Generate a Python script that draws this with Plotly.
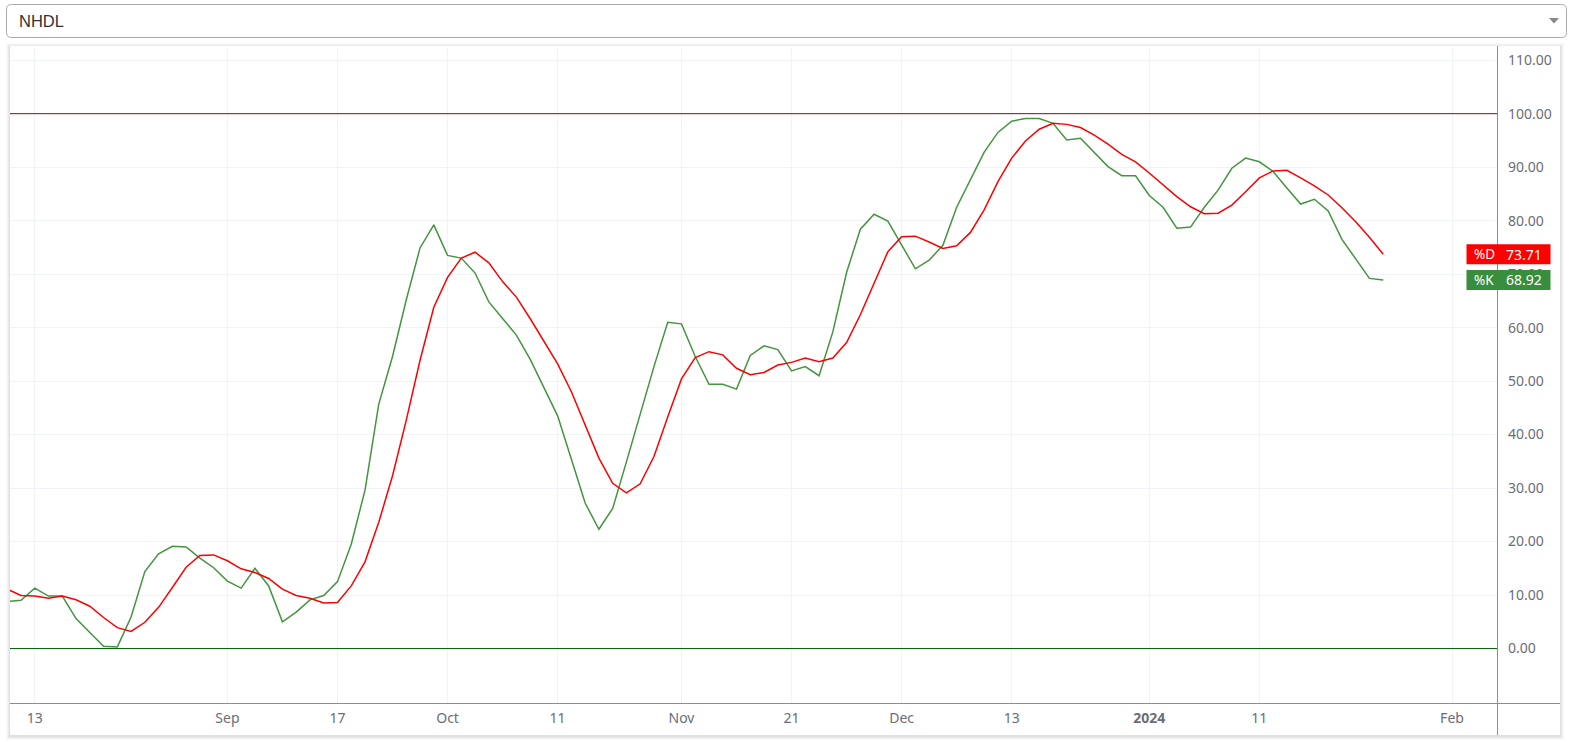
import plotly.graph_objects as go

# ---------------- data ----------------
title_text = "NHDL"
bars = list(range(-1, 100))
k_values = [8.8, 9.0, 11.3, 9.8, 9.8, 5.6, 3.0, 0.4, 0.3, 5.9,
            14.4, 17.7, 19.1, 19.0, 16.9, 15.1, 12.6, 11.3, 15.0, 11.7,
            5.0, 6.8, 9.1, 9.9, 12.5, 19.5, 29.6, 45.7, 54.6, 65.2,
            74.9, 79.2, 73.5, 73.0, 70.2, 64.8, 61.7, 58.6, 54.1, 48.8,
            43.5, 35.4, 27.2, 22.3, 26.2, 34.9, 43.7, 52.7, 61.0, 60.7,
            54.6, 49.4, 49.4, 48.5, 54.8, 56.6, 55.9, 51.9, 52.7, 51.0,
            59.2, 70.3, 78.4, 81.2, 79.9, 75.4, 71.0, 72.6, 75.4, 82.5,
            87.6, 92.8, 96.5, 98.6, 99.1, 99.1, 98.2, 95.1, 95.4, 92.7,
            90.1, 88.4, 88.4, 84.7, 82.5, 78.6, 78.8, 82.5, 85.7, 89.8,
            91.7, 91.0, 89.2, 86.1, 83.1, 84.0, 81.8, 76.5, 72.8, 69.2,
            68.92]
d_values = [11.1, 9.9, 9.8, 9.4, 9.8, 9.1, 7.9, 5.8, 3.9, 3.2,
            4.9, 7.7, 11.4, 15.2, 17.4, 17.5, 16.4, 14.9, 14.2, 13.1,
            11.1, 9.9, 9.4, 8.5, 8.6, 11.7, 16.2, 23.6, 32.3, 42.7,
            53.9, 63.8, 69.4, 73.0, 74.1, 72.1, 68.6, 65.7, 61.7, 57.4,
            53.2, 48.0, 41.8, 35.6, 30.9, 29.1, 30.8, 35.9, 43.3, 50.4,
            54.4, 55.5, 54.9, 52.4, 51.2, 51.6, 53.0, 53.5, 54.3, 53.6,
            54.3, 57.2, 62.4, 68.3, 74.2, 77.0, 77.1, 76.0, 74.8, 75.3,
            77.8, 82.0, 87.3, 91.7, 94.9, 97.1, 98.2, 98.0, 97.4, 96.0,
            94.3, 92.4, 91.0, 88.9, 86.7, 84.5, 82.6, 81.3, 81.4, 82.9,
            85.4, 88.0, 89.3, 89.4, 88.0, 86.5, 84.8, 82.4, 79.8, 76.9,
            73.71]
tick_pos = [1, 15, 23, 31, 39, 48, 56, 64, 72, 82, 90, 104]
tick_labels = ["13", "Sep", "17", "Oct", "11", "Nov", "21", "Dec", "13",
               "<b>2024</b>", "11", "Feb"]
y_ticks = [0, 10, 20, 30, 40, 50, 60, 70, 80, 90, 100, 110]
upper_level = 100
lower_level = 0

# ---------------- layout helpers ----------------
W, H = 1569, 742
L, R, T, B = 10, 72, 48, 39
PW, PH = W - L - R, H - T - B


def px(x):
    return (x - L) / PW


def py(y):
    return (H - B - y) / PH


K_COLOR = "#43953f"
D_COLOR = "#ff0000"
GRID = "#f0f3fa"
AXIS = "#8a8d94"
TXT = "#6a6d78"
FONT = "Noto Sans"

fig = go.Figure()
fig.add_trace(go.Scatter(x=bars, y=k_values, mode="lines", name="%K",
                         line=dict(color=K_COLOR, width=1.5), hoverinfo="skip"))
fig.add_trace(go.Scatter(x=bars, y=d_values, mode="lines", name="%D",
                         line=dict(color=D_COLOR, width=1.5), hoverinfo="skip"))

shapes = []
# card shadow
for i, a in enumerate([0.02, 0.026, 0.033, 0.042]):
    g = 4 - i
    shapes.append(dict(type="rect", xref="paper", yref="paper", layer="below",
                       x0=px(10 - g), x1=px(1560 + g), y0=py(735 + g + 1), y1=py(46 - g + 1),
                       line=dict(width=0), fillcolor=f"rgba(0,0,0,{a})"))
shapes.append(dict(type="rect", xref="paper", yref="paper", layer="below",
                   x0=px(10), x1=px(1560), y0=py(735), y1=py(46),
                   line=dict(width=0), fillcolor="white"))

# dropdown box with rounded corners
x0, x1, y0, y1, r = 6.5, 1566.5, 4.5, 37.5, 5


def P(x, y):
    return f"{px(x)},{py(y)}"


path = (f"M {P(x0 + r, y0)} L {P(x1 - r, y0)} Q {P(x1, y0)} {P(x1, y0 + r)} "
        f"L {P(x1, y1 - r)} Q {P(x1, y1)} {P(x1 - r, y1)} "
        f"L {P(x0 + r, y1)} Q {P(x0, y1)} {P(x0, y1 - r)} "
        f"L {P(x0, y0 + r)} Q {P(x0, y0)} {P(x0 + r, y0)} Z")
shapes.append(dict(type="path", xref="paper", yref="paper", path=path,
                   line=dict(color="#aaaaaa", width=1), fillcolor="white", layer="above"))
# caret
shapes.append(dict(type="path", xref="paper", yref="paper", layer="above",
                   path=f"M {P(1549, 18)} L {P(1559, 18)} L {P(1554, 23.5)} Z",
                   line=dict(width=0), fillcolor="#888888"))

# axis lines spanning the card
shapes.append(dict(type="line", xref="paper", yref="paper", layer="above",
                   x0=px(1497.5), x1=px(1497.5), y0=py(46), y1=py(735),
                   line=dict(color=AXIS, width=1)))
shapes.append(dict(type="line", xref="paper", yref="paper", layer="above",
                   x0=px(10), x1=px(1560), y0=py(703.5), y1=py(703.5),
                   line=dict(color=AXIS, width=1)))

# level lines
shapes.append(dict(type="line", xref="paper", yref="y", layer="above",
                   x0=0, x1=1, y0=upper_level, y1=upper_level,
                   line=dict(color="#8e0a0a", width=1)))
shapes.append(dict(type="line", xref="paper", yref="y", layer="above",
                   x0=0, x1=1, y0=lower_level, y1=lower_level,
                   line=dict(color="#0b6410", width=1)))

annotations = [dict(text=title_text, xref="paper", yref="paper", x=px(17), y=py(21),
                    xanchor="left", yanchor="middle", showarrow=False,
                    font=dict(family="Liberation Sans", size=16.5, color="#333333"))]

# last value labels
for name, vals, col in [("%D", d_values, D_COLOR), ("%K", k_values, "#388e3c")]:
    last = vals[-1]
    shapes.append(dict(type="rect", xref="paper", yref="y", layer="above",
                       xsizemode="pixel", xanchor=1, x0=-30.5, x1=53.5,
                       ysizemode="pixel", yanchor=last, y0=-10, y1=10,
                       line=dict(width=0), fillcolor=col))
    annotations.append(dict(text=name, xref="paper", yref="y", x=1, y=last,
                            xshift=-25, xanchor="left", yanchor="middle", showarrow=False,
                            font=dict(family=FONT, size=13.5, color="white")))
    annotations.append(dict(text=f"{last:.2f}", xref="paper", yref="y", x=1, y=last,
                            xshift=47, xanchor="right", yanchor="middle", showarrow=False,
                            font=dict(family=FONT, size=14, color="white")))

fig.update_layout(
    width=W, height=H,
    margin=dict(l=L, r=R, t=T, b=B, pad=0),
    paper_bgcolor="white", plot_bgcolor="rgba(0,0,0,0)",
    showlegend=False, hovermode=False,
    font=dict(family=FONT, size=14, color=TXT),
    shapes=shapes, annotations=annotations,
    xaxis=dict(range=[-0.8, 107.27], tickmode="array", tickvals=tick_pos, ticktext=tick_labels,
               showgrid=True, gridcolor=GRID, gridwidth=1, zeroline=False, showline=False,
               ticks="", ticklabelstandoff=5, tickfont=dict(size=14, color=TXT)),
    yaxis=dict(range=[-10.19, 112.28], side="right", tickmode="array", tickvals=y_ticks,
               tickformat=".2f", showgrid=True, gridcolor=GRID, gridwidth=1, zeroline=False,
               showline=False, ticks="", ticklabelstandoff=10,
               tickfont=dict(size=14, color=TXT)),
)

fig.write_html("out.html", config={"displayModeBar": False},
               post_script="document.body.style.margin='0';document.body.style.overflow='hidden';")
